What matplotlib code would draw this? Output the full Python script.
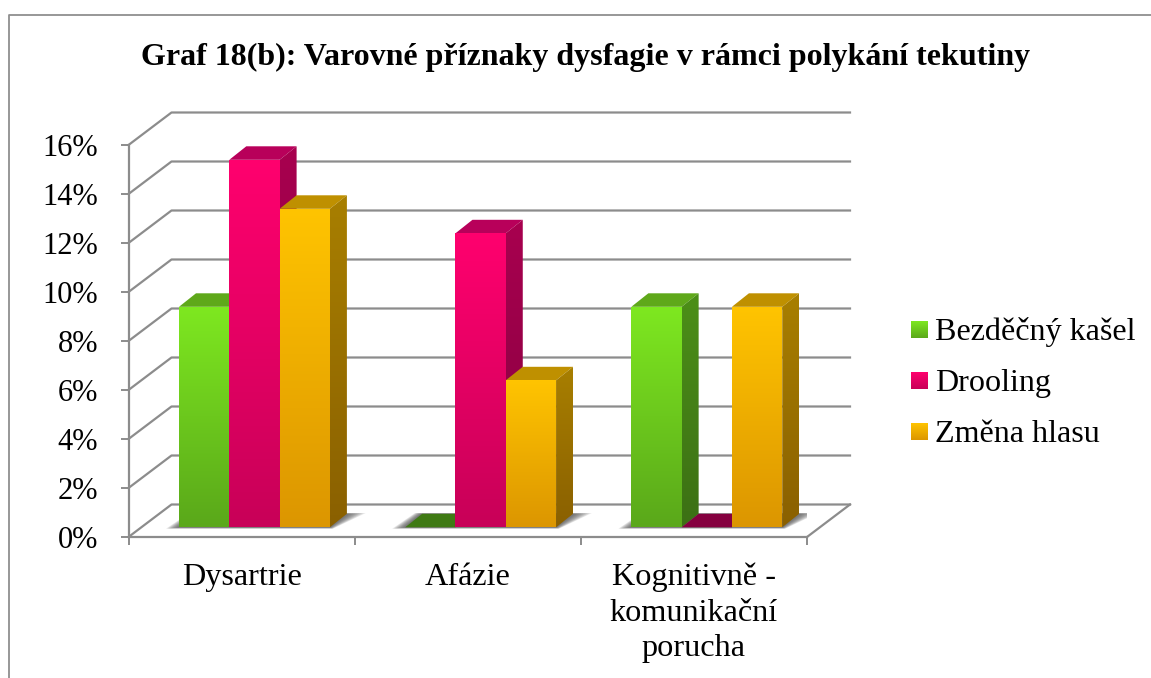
import numpy as np
import matplotlib
matplotlib.use("Agg")
import matplotlib.pyplot as plt
from matplotlib.colors import LinearSegmentedColormap
from matplotlib.patches import Polygon
from matplotlib.ticker import FuncFormatter

plt.rcParams['font.family'] = ['Liberation Serif', 'DejaVu Serif']

title = "Graf 18(b): Varovné příznaky dysfagie v rámci polykání tekutiny"
categories = ["Dysartrie", "Afázie", "Kognitivně -\nkomunikační\nporucha"]
series = ["Bezděčný kašel", "Drooling", "Změna hlasu"]
kasel = [9, 0, 9]
drooling = [15, 12, 0]
hlas = [13, 6, 9]
yticks = [0, 2, 4, 6, 8, 10, 12, 14, 16]

# colours: front top/bottom, side top/bottom, top face
front_cols = [("#7ee820", "#5aa81a"), ("#ff006e", "#c80058"), ("#ffc400", "#dc9600")]
side_cols = [("#4c8f18", "#3c7014"), ("#a8004f", "#85003f"), ("#a87f00", "#8a6000")]
top_cols = ["#5fa81a", "#b8005a", "#bf9000"]
zero_cols = ["#3f7a14", "#85003f", "#8a6000"]
grid_col = "#8c8c8c"

W, H = 1151, 678
fig = plt.figure(figsize=(W / 100, H / 100), dpi=100)
fig.patch.set_facecolor("white")

# pixel overlay for frame, title and legend
bg = fig.add_axes([0, 0, 1, 1])
bg.set_xlim(0, W)
bg.set_ylim(H, 0)
bg.axis("off")
bg.plot([9, 9, W], [H, 15, 15], color="#8f8f8f", lw=1.3)
bg.text(586, 57.5, title, ha="center", va="center", fontsize=23, fontweight="bold", color="black")

# main axes: x in categories, y in percent, front plane of the 3D box
x0, x1, y0, y16 = 128.5, 807, 537, 145
ax = fig.add_axes([x0 / W, 1 - y0 / H, (x1 - x0) / W, (y0 - y16) / H])
ax.patch.set_alpha(0)
ax.set_xlim(0, 3)
ax.set_ylim(0, 16)

px_x = 3 / (x1 - x0)
px_y = 16 / (y0 - y16)
back_dx, back_dy = 43 * px_x, 32.5 * px_y
plane_dx, plane_dy = 12.5 * px_x, 9.7 * px_y
depth_dx, depth_dy = 17 * px_x, 13.5 * px_y
gap, bar_w = 38 * px_x, 50.3 * px_x

for s in ["top", "right"]:
    ax.spines[s].set_visible(False)
for s in ["left", "bottom"]:
    ax.spines[s].set_color(grid_col)
    ax.spines[s].set_linewidth(1.6)

ax.set_yticks(yticks)
ax.yaxis.set_major_formatter(FuncFormatter(lambda v, p: f"{int(v)}%"))
ax.set_xticks([0, 1, 2, 3])
ax.set_xticklabels([])
ax.set_xticks([0.5, 1.5, 2.5], minor=True)
ax.set_xticklabels(categories, minor=True, linespacing=1.29)
ax.tick_params(axis="y", length=6, width=1.4, color=grid_col, pad=16, labelsize=22)
ax.tick_params(axis="x", which="major", length=6, width=1.4, color=grid_col)
ax.tick_params(axis="x", which="minor", length=0, pad=18.5, labelsize=23.2)

# back wall lines and floor
for v in yticks:
    ax.plot([0, back_dx, 3 + back_dx], [v, v + back_dy, v + back_dy],
            color=grid_col, lw=1.6, clip_on=False, zorder=1)
ax.plot([3, 3 + back_dx], [0, back_dy], color=grid_col, lw=1.6, clip_on=False, zorder=1)


def grad(axes, pts, c_top, c_bot, z):
    # gradient filled polygon, clipped by the polygon itself
    xs = [p[0] for p in pts]
    ys = [p[1] for p in pts]
    cmap = LinearSegmentedColormap.from_list("g", [c_bot, c_top])
    im = axes.imshow(np.linspace(1, 0, 128).reshape(-1, 1), cmap=cmap, aspect="auto", vmin=0, vmax=1,
                     extent=[min(xs), max(xs), min(ys), max(ys)], zorder=z, interpolation="bilinear")
    poly = Polygon(pts, closed=True, facecolor="none", edgecolor="none", transform=axes.transData)
    axes.add_patch(poly)
    im.set_clip_path(poly)


values = [kasel, drooling, hlas]

# soft shadows on the floor under each group
for c in range(len(categories)):
    xl = c + gap + plane_dx
    xr = xl + 3 * bar_w
    for i in range(9):
        e = (9 - i) * 1.6
        ex, ey = e * px_x, e * px_y
        pts = [(xl - ex * 0.9, plane_dy - ey * 0.1), (xr + ex * 0.2, plane_dy - ey * 0.1),
               (xr + depth_dx + ex * 1.3, plane_dy + depth_dy + ey * 0.05),
               (xl + depth_dx - ex * 0.5, plane_dy + depth_dy + ey * 0.05)]
        ax.add_patch(Polygon(pts, closed=True, facecolor="#444444", edgecolor="none", alpha=0.13, zorder=2))

# bars
z = 3
for c in range(len(categories)):
    for i, vals in enumerate(values):
        v = vals[c]
        left = c + gap + plane_dx + i * bar_w
        right = left + bar_w
        base = plane_dy
        top = base + v
        top_col = top_cols[i] if v > 0 else zero_cols[i]
        ax.add_patch(Polygon([(left, top), (right, top), (right + depth_dx, top + depth_dy),
                              (left + depth_dx, top + depth_dy)], closed=True,
                             facecolor=top_col, edgecolor="none", zorder=z))
        z += 1
        if v > 0:
            grad(ax, [(right, base), (right + depth_dx, base + depth_dy),
                      (right + depth_dx, top + depth_dy), (right, top)],
                 side_cols[i][0], side_cols[i][1], z)
            z += 1
            grad(ax, [(left, base), (right, base), (right, top), (left, top)],
                 front_cols[i][0], front_cols[i][1], z)
            z += 1
ax.set_xlim(0, 3)
ax.set_ylim(0, 16)

# legend
for i, name in enumerate(series):
    yc = 329.5 + i * 51
    grad(bg, [(911, yc + 8.5), (928, yc + 8.5), (928, yc - 8.5), (911, yc - 8.5)],
         front_cols[i][1], front_cols[i][0], 2)
    bg.text(935, yc + 2.5, name, ha="left", va="center", fontsize=23.1, color="black")
bg.set_xlim(0, W)
bg.set_ylim(H, 0)

fig.savefig("out.png", dpi=100)
